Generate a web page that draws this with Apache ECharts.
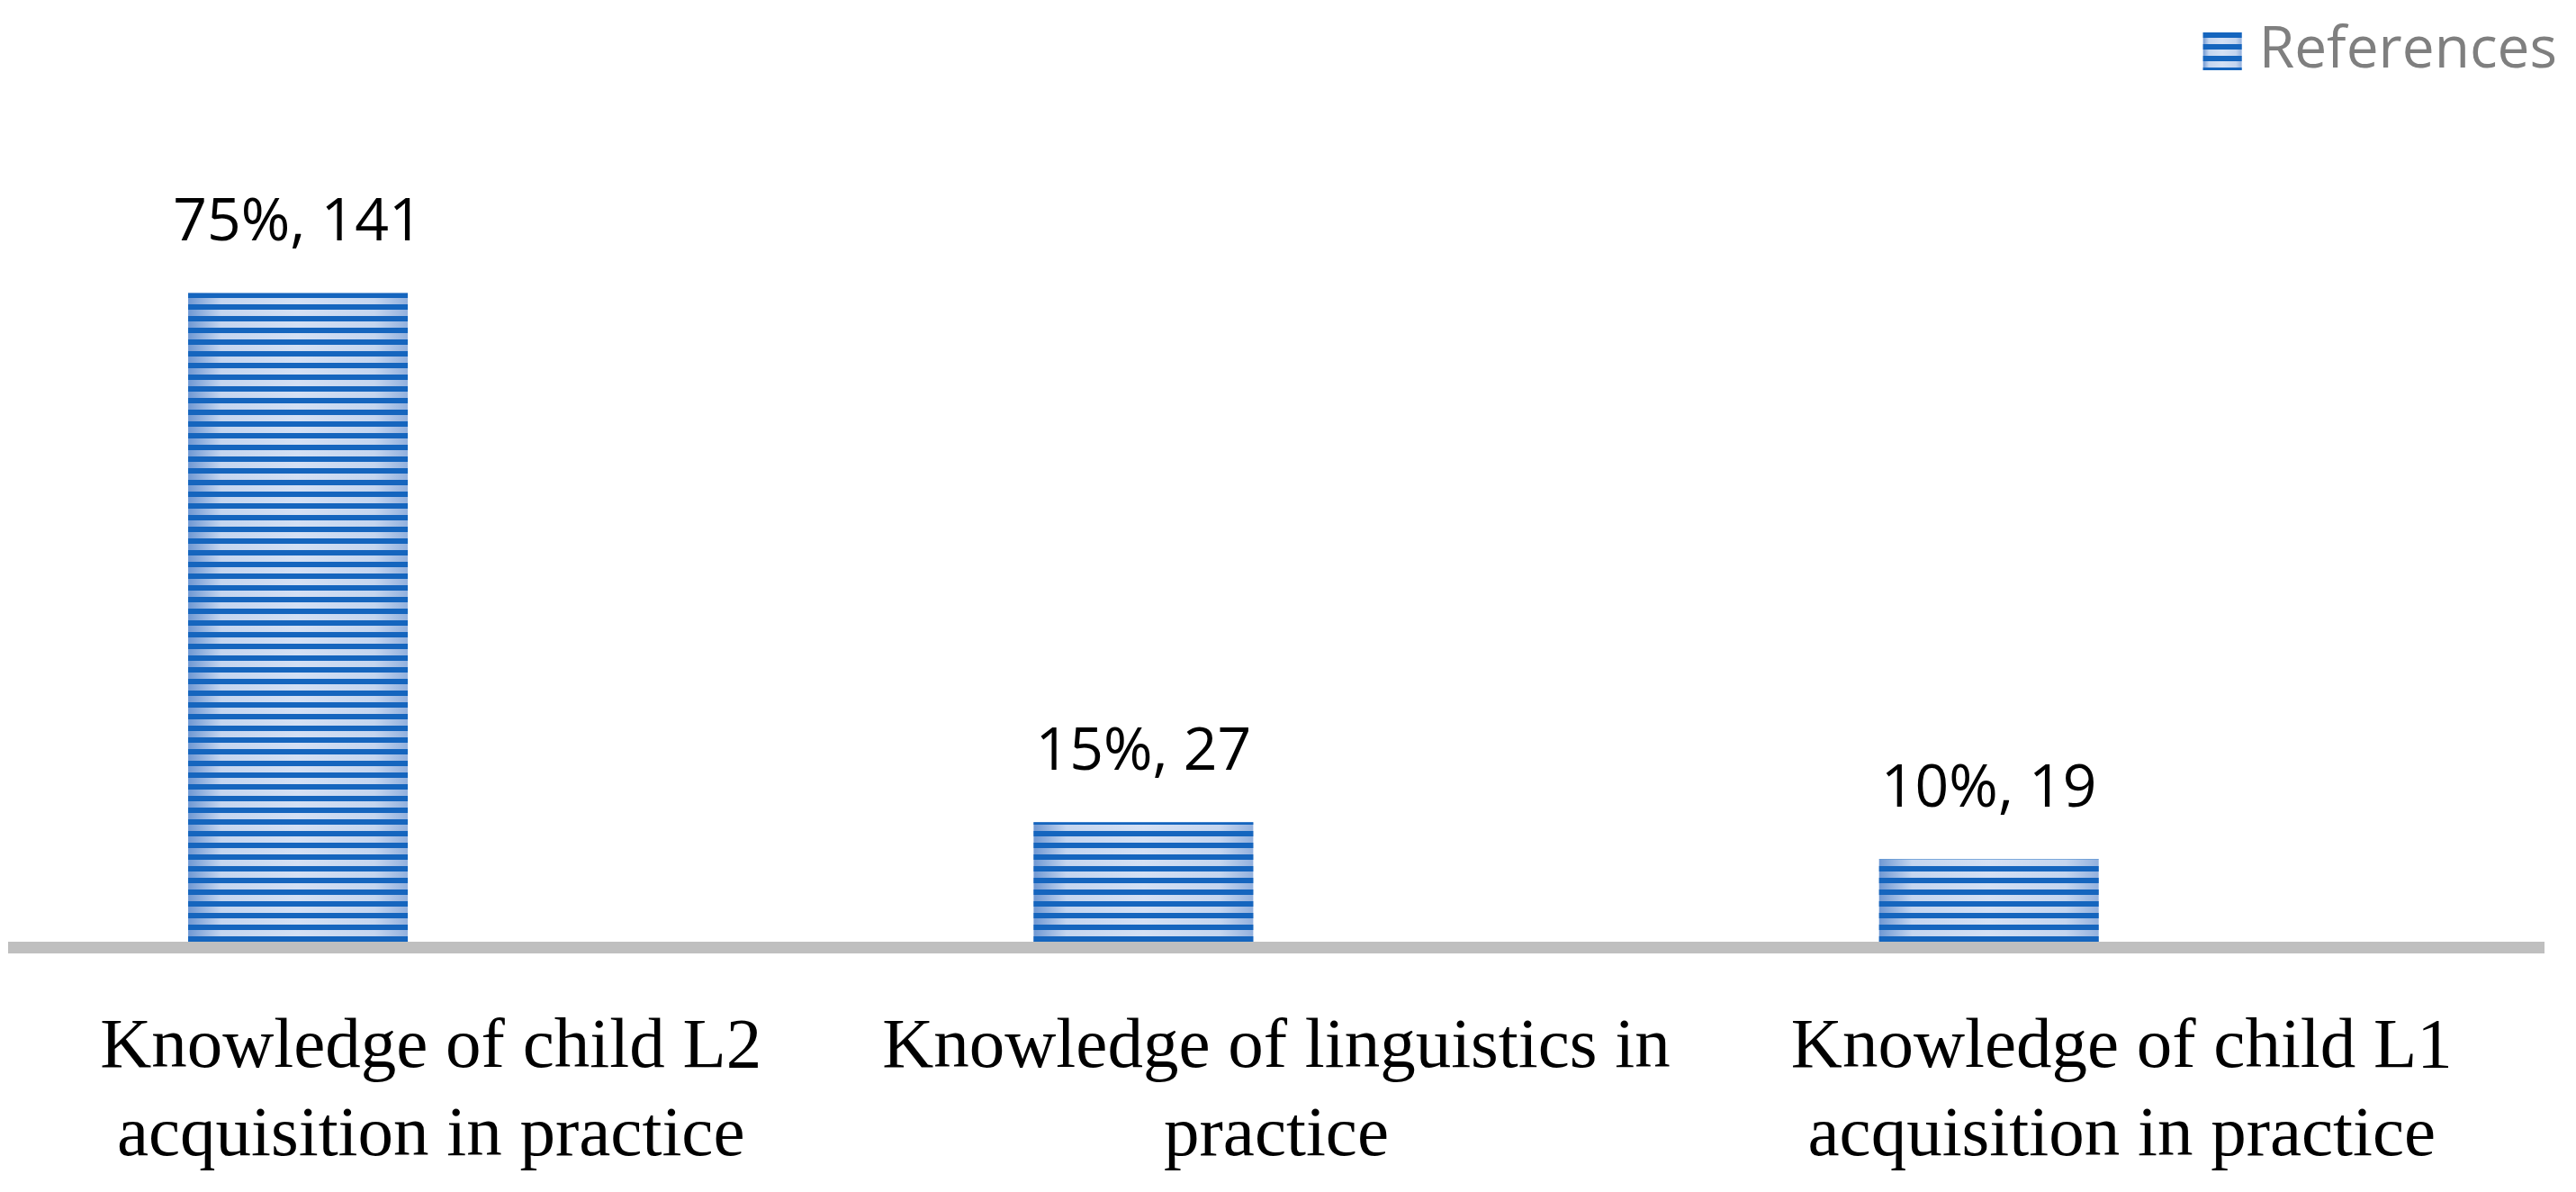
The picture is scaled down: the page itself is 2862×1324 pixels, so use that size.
<!DOCTYPE html>
<html>
<head>
<meta charset="utf-8">
<script src="https://cdn.jsdelivr.net/npm/echarts@6/dist/echarts.min.js"></script>
<style>
html, body { margin: 0; padding: 0; background: #fff; }
#chart { width: 2862px; height: 1324px; }
</style>
</head>
<body>
<div id="chart"></div>
<script>
// data
let categories = [
	'Knowledge of child L2\nacquisition in practice',
	'Knowledge of linguistics in\npractice',
	'Knowledge of child L1\nacquisition in practice',
]
let counts = [141, 27, 19]
let percents = ['75%', '15%', '10%']
let seriesName = 'References'

// empty partner series, only keeps the bars left of the category centre like the original
let emptyData = categories.map(function () { return '-' })

let barFill = new echarts.graphic.LinearGradient(0, 0, 1, 0, [
	{ offset: 0, color: '#6f98d3' },
	{ offset: 0.15, color: '#c4d5ef' },
	{ offset: 0.5, color: '#d4e0f4' },
	{ offset: 0.85, color: '#c4d5ef' },
	{ offset: 1, color: '#93b1de' },
])

let stripes = {
	color: '#1565be',
	symbol: 'rect',
	symbolSize: 1,
	dashArrayX: [10, 0],
	dashArrayY: [6, 6.3],
}

let option = {
	backgroundColor: '#fff',
	animation: false,
	legend: {
		data: [seriesName],
		icon: 'rect',
		right: 16,
		top: 20,
		itemWidth: 43,
		itemHeight: 42,
		itemGap: 20,
		textStyle: {
			fontFamily: 'Open Sans',
			fontSize: 64,
			color: '#7f7f7f',
			padding: [0, 0, 0, 14],
		},
	},
	grid: {
		left: 9,
		right: 35,
		top: 227.5,
		bottom: 271.5,
		containLabel: false,
	},
	xAxis: {
		type: 'category',
		data: categories,
		z: 5,
		axisLine: {
			show: true,
			lineStyle: { color: '#bfbfbf', width: 13, cap: 'butt' },
		},
		axisTick: { show: false },
		axisLabel: {
			interval: 0,
			margin: 63,
			fontFamily: 'Liberation Serif',
			fontSize: 79,
			lineHeight: 98,
			color: '#000',
		},
	},
	yAxis: {
		type: 'value',
		min: 0,
		max: 160,
		show: false,
		splitLine: { show: false },
	},
	series: [
		{
			name: seriesName,
			type: 'bar',
			data: counts,
			barWidth: 244,
			barGap: '21%',
			itemStyle: {
				color: barFill,
				decal: stripes,
			},
			label: {
				show: true,
				position: 'top',
				distance: 44,
				fontFamily: 'Open Sans',
				fontSize: 66,
				color: '#000',
				formatter: function (p) {
					return percents[p.dataIndex] + ', ' + p.value
				},
			},
		},
		{
			name: 'spacer',
			type: 'bar',
			data: emptyData,
			barWidth: 244,
			barGap: '21%',
			silent: true,
		},
	],
}

let myChart = echarts.init(document.getElementById('chart'))
myChart.setOption(option)
window.addEventListener('resize', function () {
	myChart.resize()
})
</script>
</body>
</html>
